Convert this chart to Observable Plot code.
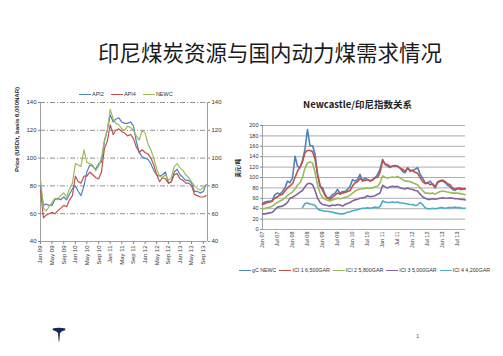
<!DOCTYPE html>
<html>
<head>
<meta charset="utf-8">
<script src="https://cdn.jsdelivr.net/npm/d3@7"></script>
<script src="https://cdn.jsdelivr.net/npm/@observablehq/plot@0.6"></script>
<style>
  body { margin: 0; background: #fff; }
  #slide { position: relative; width: 503px; height: 356px; background: #fff; overflow: hidden;
           font-family: "Liberation Sans", Arial, "Noto Sans CJK SC", sans-serif; }
  .abs { position: absolute; }
  .legend { display: flex; align-items: center; white-space: nowrap; color: #333; }
  .legend .item { display: flex; align-items: center; }
  .legend .sw { display: inline-block; height: 0; border-top-style: solid; margin-right: 1px; }
</style>
</head>
<body>
<div id="slide">
  <div class="abs" id="title" style="left:98px;top:41px;font-family:'Noto Sans CJK SC',sans-serif;font-size:21.5px;font-weight:400;color:#1a1a1a;line-height:1;">印尼煤炭资源与国内动力煤需求情况</div>
  <div class="abs legend" id="legL" style="left:79px;top:91px;font-size:5.5px;gap:7px;"></div>
  <div class="abs" id="chartL" style="left:0px;top:95px;"></div>
  <div class="abs" id="titleR" style="left:230px;top:100px;width:255px;text-align:center;font-family:'Noto Sans CJK SC',sans-serif;font-size:9.5px;font-weight:bold;color:#222;line-height:1;">Newcastle/印尼指数关系</div>
  <div class="abs" id="chartR" style="left:230px;top:115px;"></div>
  <div class="abs legend" id="legR" style="left:239px;top:267px;font-size:5.3px;gap:3px;"></div>
  <svg class="abs" style="left:52px;top:327px;" width="14" height="16" viewBox="0 0 14 16">
    <path d="M0.5 1.5 Q7 0 13.5 1.5 L13 3.2 Q9.5 4 8 6 L7.3 14.5 L6.7 14.5 L6 6 Q4.5 4 1 3.2 Z" fill="#14285a"/>
  </svg>
  <div class="abs" style="left:416px;top:333px;font-size:6px;color:#666;">1</div>
</div>
<script>
// ---------------- Left chart data (monthly, Jan 2009 – Oct 2013) ----------------
const leftStart = "2009-01";
const api2 = [80,66,67,66,66,70,71,70,72,70,74,78,
              80,76,73,80,90,95,94,92,96,97,112,120,
              131,126,128,129,126,125,125,126,123,112,104,101,
              100,99,96,91,88,87,88,90,82,83,90,92,
              88,86,84,84,82,76,76,75,76,81];
const api4 = [77,57,59,60,61,60,62,64,66,65,70,73,
              87,83,82,87,87,90,88,86,85,90,107,112,
              124,117,120,121,119,118,116,117,114,108,104,106,
              104,103,100,95,88,83,86,85,82,83,88,89,
              85,84,82,82,80,74,73,72,72,73];
const newc = [85,64,62,65,68,71,70,73,75,72,78,82,
              96,95,94,106,97,96,95,91,94,100,113,120,
              135,128,125,124,121,120,123,122,120,116,113,120,
              118,110,106,100,92,87,86,88,84,86,94,96,
              93,91,88,86,83,80,78,77,79,80];
const leftSeries = ["API2", "API4", "NEWC"];
const leftColors = ["#4f81bd", "#c0504d", "#9bbb59"];
const leftYTicks = [40, 60, 80, 100, 120, 140];
const leftXTickLabels = ["Jan 09","May 09","Sep 09","Jan 10","May 10","Sep 10","Jan 11","May 11",
                         "Sep 11","Jan 12","May 12","Sep 12","Jan 13","May 13","Sep 13"];
const leftYLabel = "Price (USD/t, basis 6,000NAR)";

// ---------------- Right chart data (monthly, Jan 2007 – Oct 2013) ----------------
const rightStart = "2007-01";
const gcNewc = [50,53,54,54,56,67,70,68,73,80,93,90,
                99,141,122,119,132,155,192,161,161,145,106,83,
                80,67,60,62,67,70,77,70,73,73,77,83,
                96,93,96,106,93,99,96,93,96,99,106,116,
                135,125,122,119,122,122,122,118,112,109,119,112,
                114,116,119,106,99,90,90,93,86,80,90,93,
                93,90,85,82,77,75,80,77,77,78];
const ici1 = [48,50,52,53,55,60,63,66,68,74,80,84,
              88,100,112,120,130,148,152,152,150,135,105,85,
              75,65,60,58,62,66,70,68,70,71,73,75,
              84,90,92,98,95,94,96,94,95,100,100,110,
              132,126,125,121,122,123,122,118,116,112,118,114,
              113,110,108,100,92,88,90,86,88,82,92,94,
              95,92,88,86,80,78,78,80,78,79];
const ici2 = [40,41,42,43,45,49,52,55,57,61,65,69,
              72,78,85,90,100,118,128,130,128,110,85,70,
              62,58,56,55,57,58,60,59,60,62,63,66,
              70,74,76,78,78,79,80,79,80,82,83,90,
              103,100,99,100,101,100,102,99,96,93,93,92,
              90,88,86,80,75,70,70,69,70,68,71,73,
              74,73,72,71,70,70,70,69,68,67];
const ici3 = [30,30,31,32,33,38,43,44,45,48,52,60,
              62,65,68,72,75,82,88,89,86,75,60,52,
              48,47,46,45,47,46,48,47,45,48,50,52,
              55,57,58,60,61,62,65,63,64,65,68,70,
              85,82,80,82,83,82,83,80,79,78,80,78,
              77,75,74,68,63,60,58,58,59,58,59,60,
              61,60,60,61,60,59,59,58,58,57];
const ici4 = [null,null,null,null,null,null,null,null,null,null,null,null,
              null,null,null,null,42,50,51,49,48,46,40,37,
              36,35,35,34,33,32,31,30,30,31,33,34,
              36,37,38,40,41,41,42,41,42,43,42,44,
              55,53,52,52,53,52,53,51,51,50,49,48,
              48,46,47,52,48,42,40,40,41,40,41,42,
              42,41,42,42,42,43,42,42,41,41];
const rightSeries = ["gC NEWC", "ICI 1 6,500GAR", "ICI 2 5,800GAR", "ICI 3 5,000GAR", "ICI 4 4,200GAR"];
const rightColors = ["#4f81bd", "#c0504d", "#9bbb59", "#8064a2", "#4bacc6"];
const rightYTicks = [0, 20, 40, 60, 80, 100, 120, 140, 160, 180, 200];
const rightXTickLabels = ["Jan 07","Jul 07","Jan 08","Jul 08","Jan 09","Jul 09","Jan 10",
                          "Jul 10","Jan 11","Jul 11","Jan 12","Jul 12","Jan 13","Jul 13"];
const rightYLabel = "美元/吨";

// ---------------- helpers ----------------
const parseMonth = d3.utcParse("%Y-%m");
const parseTick = d3.utcParse("%b %y");
function toTable(start, names, arrays) {
  const s = parseMonth(start);
  const rows = [];
  names.forEach((name, k) => {
    arrays[k].forEach((v, i) => {
      rows.push({date: d3.utcMonth.offset(s, i), value: v == null ? NaN : v, series: name});
    });
  });
  return rows;
}
const fmt = d3.utcFormat("%b %y");

// ---------------- Left chart ----------------
const leftData = toTable(leftStart, leftSeries, [api2, api4, newc]);
const lx0 = parseMonth("2009-01"), lx1 = new Date(Date.UTC(2013, 9, 15));
const leftTickDates = leftXTickLabels.map(parseTick);
const chartL = Plot.plot({
  width: 230, height: 178,
  marginTop: 7, marginBottom: 32, marginLeft: 40, marginRight: 23,
  style: {fontFamily: "'Liberation Sans', Arial, sans-serif", fontSize: "6px", color: "#333", background: "transparent", overflow: "visible"},
  x: {type: "utc", domain: [lx0, lx1]},
  y: {domain: [40, 140]},
  color: {domain: leftSeries, range: leftColors},
  marks: [
    Plot.ruleY(leftYTicks.slice(1), {stroke: "#444", strokeWidth: 0.6, strokeDasharray: "5,2,1,2"}),
    Plot.ruleY([40], {stroke: "#888", strokeWidth: 0.8}),
    Plot.ruleX([lx0, lx1], {stroke: "#888", strokeWidth: 0.8}),
    Plot.axisY({anchor: "left", ticks: leftYTicks, tickSize: 2, tickPadding: 2, label: null, stroke: "#888", fill: "#333"}),
    Plot.axisY({anchor: "right", ticks: leftYTicks, tickSize: 2, tickPadding: 2, label: null, stroke: "#888", fill: "#333"}),
    Plot.axisX({ticks: leftTickDates, tickFormat: fmt, tickRotate: -90, tickSize: 3, tickPadding: 1, label: null, stroke: "#888", fill: "#333"}),
    Plot.lineY(leftData, {x: "date", y: "value", stroke: "series", strokeWidth: 1.2, z: "series"}),
    Plot.text([leftYLabel], {frameAnchor: "left", rotate: -90, dx: -23, fontWeight: "bold", fontSize: 6, fill: "#222"})
  ]
});
document.getElementById("chartL").appendChild(chartL);

// ---------------- Right chart ----------------
const rightData = toTable(rightStart, rightSeries, [gcNewc, ici1, ici2, ici3, ici4]);
const rx0 = parseMonth("2007-01"), rx1 = new Date(Date.UTC(2013, 9, 5));
const rightTickDates = rightXTickLabels.map(parseTick);
const chartR = Plot.plot({
  width: 273, height: 134,
  marginTop: 10, marginBottom: 20, marginLeft: 32, marginRight: 38,
  style: {fontFamily: "'Liberation Sans', Arial, sans-serif", fontSize: "5.5px", color: "#333", background: "transparent", overflow: "visible"},
  x: {type: "utc", domain: [rx0, rx1]},
  y: {domain: [0, 200]},
  color: {domain: rightSeries, range: rightColors},
  marks: [
    Plot.ruleY(rightYTicks, {stroke: "#888", strokeWidth: 0.7}),
    Plot.ruleX([rx0], {stroke: "#888", strokeWidth: 0.8}),
    Plot.axisY({anchor: "left", ticks: rightYTicks, tickSize: 2, tickPadding: 2, label: null, stroke: "#888", fill: "#333"}),
    Plot.axisX({ticks: rightTickDates, tickFormat: fmt, tickRotate: -90, tickSize: 0, tickPadding: 2, label: null, fill: "#333"}),
    Plot.lineY(rightData, {x: "date", y: "value", stroke: "series", strokeWidth: 1.6, z: "series"}),
    Plot.text([rightYLabel], {frameAnchor: "left", rotate: -90, dx: -24, fontWeight: "bold", fontSize: 5.5, fill: "#222", fontFamily: "'Noto Sans CJK SC', sans-serif"})
  ]
});
document.getElementById("chartR").appendChild(chartR);

// ---------------- Legends ----------------
function buildLegend(el, names, colors, swW, swH) {
  names.forEach((n, i) => {
    const it = document.createElement("span");
    it.className = "item";
    const sw = document.createElement("span");
    sw.className = "sw";
    sw.style.width = swW + "px";
    sw.style.borderTopWidth = swH + "px";
    sw.style.borderTopColor = colors[i];
    it.appendChild(sw);
    it.appendChild(document.createTextNode(n));
    el.appendChild(it);
  });
}
buildLegend(document.getElementById("legL"), leftSeries, leftColors, 12, 1);
buildLegend(document.getElementById("legR"), rightSeries, rightColors, 12, 1);
</script>
</body>
</html>
